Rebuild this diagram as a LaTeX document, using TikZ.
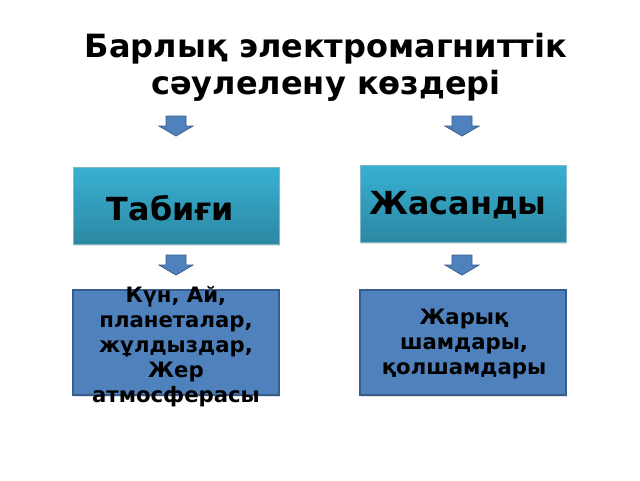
\documentclass[tikz,border=0pt]{standalone}
\usepackage{fontspec}
\setmainfont{DejaVu Sans}
\usetikzlibrary{shadows}
\definecolor{arrfill}{RGB}{79,129,189}
\definecolor{arrline}{RGB}{56,93,138}
\definecolor{tealtop}{RGB}{56,176,210}
\definecolor{tealbot}{RGB}{44,136,162}
\tikzset{
  topbox/.style={shade, top color=tealtop, bottom color=tealbot, draw=tealbot!60!white, line width=0.8pt,
    minimum width=206pt, minimum height=77pt, inner sep=0pt,
    drop shadow={opacity=0.25, shadow xshift=1pt, shadow yshift=-2pt}},
  botbox/.style={fill=arrfill, draw=arrline, line width=1.6pt,
    minimum width=206pt, minimum height=105pt, inner sep=0pt,
    drop shadow={opacity=0.25, shadow xshift=1pt, shadow yshift=-2pt}},
  toptext/.style={font=\bfseries\fontsize{31.8}{36}\selectfont, text=black, inner sep=0pt},
  bottext/.style={font=\bfseries\fontsize{21.2}{25}\selectfont, text=black, align=center, inner sep=0pt},
  titletext/.style={font=\bfseries\fontsize{32}{37}\selectfont, text=black, align=center, inner sep=0pt},
  downarr/.pic={
    \path[fill=arrfill, draw=arrline, line width=0.8pt, line join=miter]
      (-10,0) -- (10,0) -- (10,10) -- (17,10) -- (0,20) -- (-17,10) -- (-10,10) -- cycle;
  }
}
\begin{document}
\begin{tikzpicture}[x=1pt,y=-1pt]
\path[fill=white] (0,0) rectangle (640,480);
\useasboundingbox (0,0) rectangle (640,480);
\node[titletext] (title) at (326,67.5) {Барлық электромагниттік\\сәулелену көздері};
\pic at (176,116) {downarr};
\pic at (462,116) {downarr};
\node[topbox] (nat) at (176,205.5) {};
\node[toptext] (natt) at (170.5,208) {Табиғи};
\node[topbox] (art) at (463,203.5) {};
\node[toptext] (artt) at (458,205) {Жасанды};
\pic at (176,255) {downarr};
\pic at (462,255) {downarr};
\node[botbox] (nb) at (176,342.5) {};
\node[bottext] (nbt) at (176,347) {Күн, Ай,\\планеталар,\\жұлдыздар,\\Жер\\атмосферасы};
\node[botbox] (ab) at (463,342.5) {};
\node[bottext] (abt) at (464,344) {Жарық\\шамдары,\\қолшамдары};
\end{tikzpicture}
\end{document}
